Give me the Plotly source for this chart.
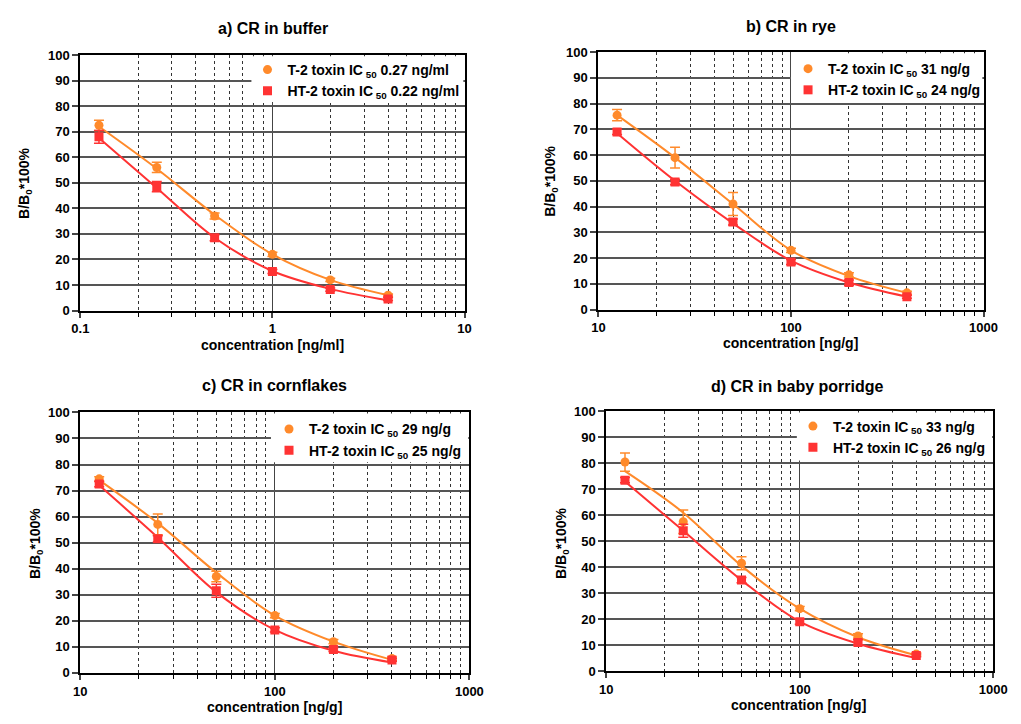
import plotly.graph_objects as go

# ---------------- data ----------------
conc_buffer = [0.125, 0.25, 0.5, 1, 2, 4]
conc_food = [12.5, 25, 50, 100, 200, 400]

panel_titles = ["a) CR in buffer", "b) CR in rye", "c) CR in cornflakes", "d) CR in baby porridge"]
x_titles = ["concentration [ng/ml]", "concentration [ng/g]", "concentration [ng/g]", "concentration [ng/g]"]
y_title = "B/B<sub>0</sub>*100%"

t2_labels = ["T-2 toxin IC<sub> 50</sub> 0.27 ng/ml", "T-2 toxin IC<sub> 50</sub> 31 ng/g",
             "T-2 toxin IC<sub> 50</sub> 29 ng/g", "T-2 toxin IC<sub> 50</sub> 33 ng/g"]
ht2_labels = ["HT-2 toxin IC<sub> 50</sub> 0.22 ng/ml", "HT-2 toxin IC<sub> 50</sub> 24 ng/g",
              "HT-2 toxin IC<sub> 50</sub> 25 ng/g", "HT-2 toxin IC<sub> 50</sub> 26 ng/g"]

# measured means and error bars
t2_a = [72.5, 56, 37, 22, 12, 6]
t2_a_err = [2, 2, 1.2, 0.8, 0.6, 0.5]
ht2_a = [68, 48.5, 28.5, 15.3, 8.2, 4.5]
ht2_a_err = [2.5, 2, 1.2, 0.8, 0.6, 0.6]

t2_b = [75.5, 59, 41, 23, 13.5, 6.5]
t2_b_err = [2.2, 4, 4.5, 0.8, 0.8, 0.6]
ht2_b = [69, 49.5, 34, 18.5, 10.5, 5]
ht2_b_err = [1, 1, 1.2, 1, 1, 0.6]

t2_c = [74.5, 57, 37, 22, 12, 5.5]
t2_c_err = [0.8, 4, 2, 0.8, 0.8, 0.6]
ht2_c = [72.5, 51.5, 31.5, 16.5, 9, 5]
ht2_c_err = [1, 1.2, 2.5, 0.8, 0.8, 0.5]

t2_d = [80.5, 57.5, 41.5, 24, 13.5, 6.5]
t2_d_err = [3.5, 4.5, 2.5, 0.8, 0.8, 0.5]
ht2_d = [73.5, 54, 35, 19, 11, 6]
ht2_d_err = [1, 2.5, 1, 1, 1, 0.5]

# fitted curves (at the concentration points)
t2_a_fit = [72, 55.5, 37.5, 22, 12, 6]
ht2_a_fit = [67.5, 48, 28.5, 15.5, 8.5, 4]
t2_b_fit = [75.5, 59, 41, 23, 13, 6.5]
ht2_b_fit = [68.5, 50, 33.5, 19, 10.5, 5]
t2_c_fit = [74, 57.5, 38.5, 22, 12, 5]
ht2_c_fit = [72, 52, 31, 16.5, 8.5, 4]
t2_d_fit = [77, 61, 40.5, 24, 13, 6]
ht2_d_fit = [73, 54, 35, 19, 10.5, 5]

y_ticks = [0, 10, 20, 30, 40, 50, 60, 70, 80, 90, 100]
minor_buffer = [0.2, 0.3, 0.4, 0.5, 0.6, 0.7, 0.8, 0.9, 2, 3, 4, 5, 6, 7, 8, 9]
minor_food = [20, 30, 40, 50, 60, 70, 80, 90, 200, 300, 400, 500, 600, 700, 800, 900]

# ---------------- styling ----------------
ORANGE = "#FF8A2B"
RED = "#FF3333"
FONT = "Liberation Sans, Arial, sans-serif"
W, H = 1021, 724

# plot area boxes in pixels: (left, right, top, bottom)
boxes = [(73, 466, 49, 310), (603, 997, 46, 309), (73, 471, 414, 680), (611, 1007, 413, 678)]
# white legend background boxes in pixels (left, bottom)
legbox = [(248, 97), (800, 98), (268, 465), (806, 463)]
# legend marker x and first row centre y (pixels)
legpos = [(265, 64), (818, 63), (287, 431), (823, 428)]

panels = [
    (conc_buffer, t2_a, t2_a_err, ht2_a, ht2_a_err, t2_a_fit, ht2_a_fit, [-1, 1], [0.1, 1, 10], ["0.1", "1", "10"], minor_buffer),
    (conc_food, t2_b, t2_b_err, ht2_b, ht2_b_err, t2_b_fit, ht2_b_fit, [1, 3], [10, 100, 1000], ["10", "100", "1000"], minor_food),
    (conc_food, t2_c, t2_c_err, ht2_c, ht2_c_err, t2_c_fit, ht2_c_fit, [1, 3], [10, 100, 1000], ["10", "100", "1000"], minor_food),
    (conc_food, t2_d, t2_d_err, ht2_d, ht2_d_err, t2_d_fit, ht2_d_fit, [1, 3], [10, 100, 1000], ["10", "100", "1000"], minor_food),
]

# title / axis-title positions in pixels
title_pos = [(270, 22), (800, 20), (272, 386), (807, 388)]
xtitle_pos = [(270, 345), (800, 343), (272, 715), (808, 713)]
ytitle_pos = [(17, 180), (555, 178), (27, 548), (565, 548)]

fig = go.Figure()
layout = dict(
    width=W, height=H,
    margin=dict(l=0, r=0, t=0, b=0),
    paper_bgcolor="white", plot_bgcolor="white",
    font=dict(family=FONT, color="black"),
    showlegend=True,
    annotations=[], shapes=[],
)

for i, (conc, t2, t2e, ht2, ht2e, t2f, ht2f, xr, xtv, xtt, mtv) in enumerate(panels):
    n = "" if i == 0 else str(i + 1)
    xa, ya = "x" + n, "y" + n
    leg = "legend" + n
    L, R, T, B = boxes[i]
    # fitted curves
    fig.add_trace(go.Scatter(x=conc, y=t2f, mode="lines", line=dict(color=ORANGE, width=2, shape="spline", smoothing=1.0),
                             xaxis=xa, yaxis=ya, showlegend=False, hoverinfo="skip"))
    fig.add_trace(go.Scatter(x=conc, y=ht2f, mode="lines", line=dict(color=RED, width=2, shape="spline", smoothing=1.0),
                             xaxis=xa, yaxis=ya, showlegend=False, hoverinfo="skip"))
    # data points
    fig.add_trace(go.Scatter(x=conc, y=t2, mode="markers", name=t2_labels[i],
                             marker=dict(color=ORANGE, size=9, symbol="circle"),
                             error_y=dict(type="data", array=t2e, color=ORANGE, thickness=1.5, width=5),
                             xaxis=xa, yaxis=ya, legend=leg))
    fig.add_trace(go.Scatter(x=conc, y=ht2, mode="markers", name=ht2_labels[i],
                             marker=dict(color=RED, size=9, symbol="square"),
                             error_y=dict(type="data", array=ht2e, color=RED, thickness=1.5, width=5),
                             xaxis=xa, yaxis=ya, legend=leg))

    layout["xaxis" + n] = dict(
        type="log", range=xr, domain=[L / W, R / W], anchor=ya,
        tickvals=xtv, ticktext=xtt, ticks="outside", ticklen=5, tickwidth=2,
        tickfont=dict(size=13, weight="bold"),
        showline=True, linecolor="black", linewidth=2, mirror=True,
        showgrid=True, gridcolor="#444444", gridwidth=1.2,
        minor=dict(tickmode="array", tickvals=mtv, showgrid=True, griddash="dot",
                   gridcolor="#333333", gridwidth=1, ticks="outside", ticklen=4, tickcolor="black", tickwidth=1),
        zeroline=False, fixedrange=True,
    )
    layout["yaxis" + n] = dict(
        range=[0, 100], domain=[1 - B / H, 1 - T / H], anchor=xa,
        tickvals=y_ticks, ticks="outside", ticklen=6, tickwidth=2,
        tickfont=dict(size=13, weight="bold"),
        showline=True, linecolor="black", linewidth=2, mirror=True,
        showgrid=True, gridcolor="#555555", gridwidth=1.5,
        zeroline=False, fixedrange=True,
    )
    # white box behind the legend (covers grid lines in the legend corner), inset from the frame
    bl, bb = legbox[i]
    layout["shapes"].append(dict(
        type="rect", xref="paper", yref="paper", layer="above",
        x0=bl / W, x1=(R - 1.2) / W, y0=1 - bb / H, y1=1 - (T + 1.2) / H,
        fillcolor="white", line=dict(width=0),
    ))
    mx, my = legpos[i]
    layout[leg] = dict(
        x=(mx - 21) / W, y=1 - (my - 16) / H, xanchor="left", yanchor="top", xref="paper", yref="paper",
        bgcolor="rgba(0,0,0,0)", borderwidth=0,
        font=dict(size=14, weight="bold", family=FONT),
        tracegroupgap=4, itemwidth=30,
    )
    tx, ty = title_pos[i]
    layout["annotations"].append(dict(text=panel_titles[i], x=tx / W, y=1 - ty / H, xref="paper", yref="paper",
                                      xanchor="center", yanchor="middle",
                                      showarrow=False, font=dict(size=16, weight="bold")))
    xx, xy = xtitle_pos[i]
    layout["annotations"].append(dict(text=x_titles[i], x=xx / W, y=1 - xy / H, xref="paper", yref="paper",
                                      xanchor="center", yanchor="middle",
                                      showarrow=False, font=dict(size=14, weight="bold")))
    yx, yy = ytitle_pos[i]
    layout["annotations"].append(dict(text=y_title, x=yx / W, y=1 - yy / H, xref="paper", yref="paper",
                                      xanchor="center", yanchor="middle",
                                      showarrow=False, textangle=-90, font=dict(size=14, weight="bold")))

fig.update_layout(**layout)
fig.write_html("out.html")
